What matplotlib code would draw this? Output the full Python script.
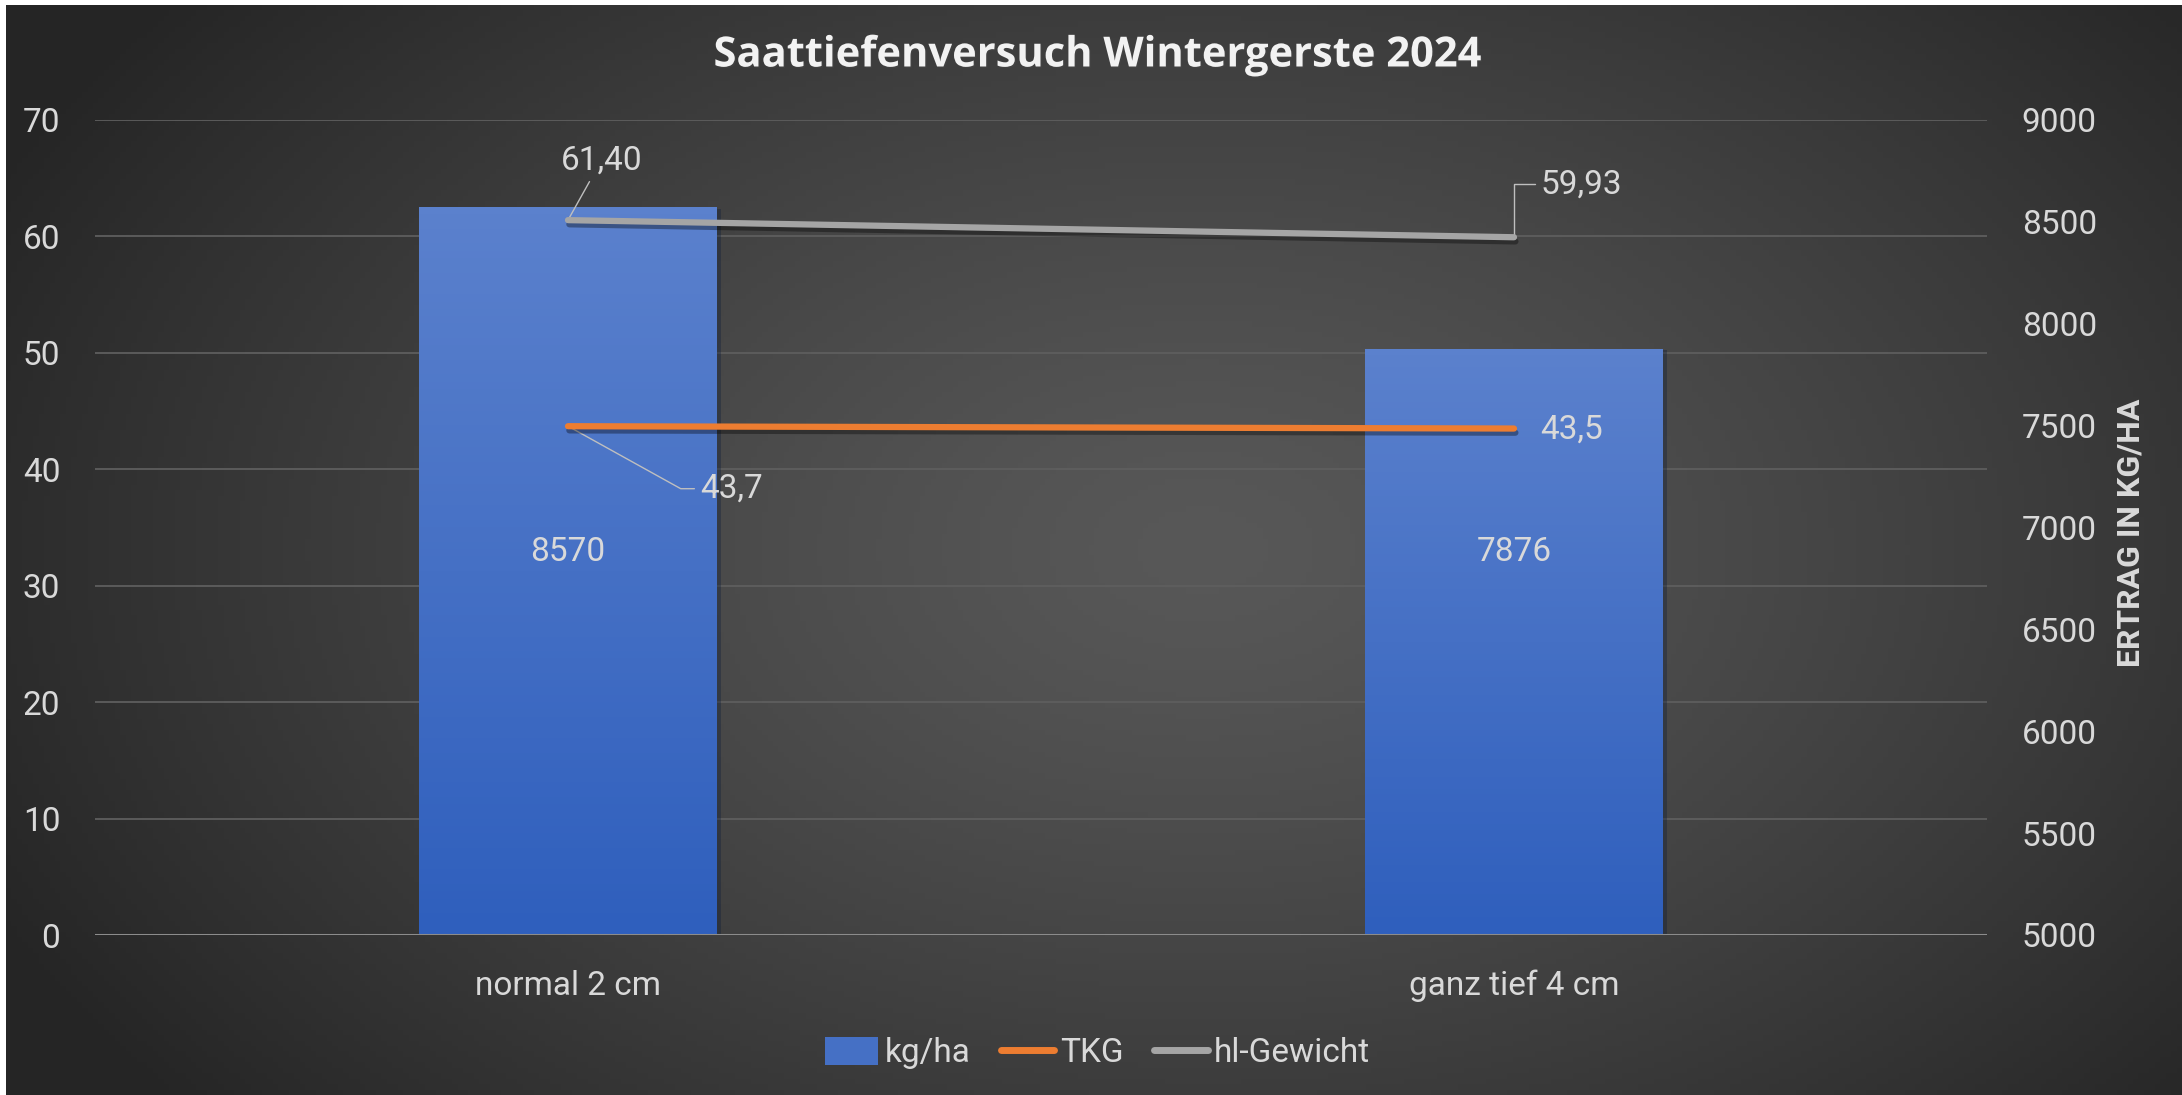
import numpy as np
import matplotlib
matplotlib.use("Agg")
import matplotlib.pyplot as plt
import matplotlib.transforms as mtransforms
import matplotlib.patheffects as pe
from matplotlib.patches import Patch
from matplotlib.lines import Line2D

plt.rcParams['font.family'] = ['Roboto', 'DejaVu Sans']

# Daten
kategorien = ["normal 2 cm", "ganz tief 4 cm"]
ertrag = [8570, 7876]          # kg/ha, rechte Achse
tkg = [43.7, 43.5]             # linke Achse
hl_gewicht = [61.40, 59.93]    # linke Achse
tkg_labels = ["43,7", "43,5"]
hl_labels = ["61,40", "59,93"]
links_ticks = [0, 10, 20, 30, 40, 50, 60, 70]
rechts_ticks = [5000, 5500, 6000, 6500, 7000, 7500, 8000, 8500, 9000]

TXT = "#D9D9D9"
FS = 24
BLAU_OBEN = np.array([0x5B, 0x81, 0xCD]) / 255
BLAU_UNTEN = np.array([0x2F, 0x5F, 0xBD]) / 255
ORANGE = "#ED7D31"
GRAU = "#A5A5A5"

W, H = 2182, 1095
fig = plt.figure(figsize=(W / 100, H / 100), dpi=100, facecolor="white")

# Hintergrund mit radialem Verlauf
bg = fig.add_axes([6 / W, 0, 1 - 6 / W, 1 - 5 / H])
bg.set_axis_off()
gx, gy = np.meshgrid(np.linspace(0, 1, 400), np.linspace(0, 1, 200))
r = np.sqrt(((gx - 0.55) / 0.62) ** 2 + ((gy - 0.5) / 0.8) ** 2)
r = np.clip(r, 0, 1) ** 1.3
c_in = np.array([0x58, 0x58, 0x58]) / 255
c_out = np.array([0x25, 0x25, 0x25]) / 255
img = c_in[None, None, :] * (1 - r[..., None]) + c_out[None, None, :] * r[..., None]
bg.imshow(img, aspect="auto", extent=[0, 1, 0, 1], origin="lower")
bg.set_xlim(0, 1)
bg.set_ylim(0, 1)

# Balken-Achse (rechts), Linien-Achse (links)
pos = [95 / W, 1 - 935 / H, (1987 - 95) / W, (935 - 120) / H]
ax = fig.add_axes(pos)
ax.patch.set_visible(False)
ax2 = ax.twinx()
ax2.patch.set_visible(False)

x = np.arange(len(kategorien))
ax.set_xlim(-0.5, len(kategorien) - 0.5)
ax.set_ylim(5000, 9000)
ax2.set_ylim(0, 70)

# Gitterlinien der linken Achse hinter den Balken
trans = mtransforms.blended_transform_factory(ax.transAxes, ax2.transData)
for t in links_ticks[1:]:
    ax.plot([0, 1], [t, t], transform=trans, color="#5E5E5E", lw=1.3, zorder=0)

bars = ax.bar(x, ertrag, width=0.315, bottom=0, color=BLAU_UNTEN, zorder=1,
              path_effects=[pe.SimplePatchShadow(offset=(3, -1), alpha=0.35), pe.Normal()])
grad = np.linspace(0, 1, 100)[:, None, None]
bar_img = BLAU_UNTEN * (1 - grad) + BLAU_OBEN * grad
for b in bars:
    ax.imshow(bar_img, aspect="auto", origin="lower", zorder=2,
              extent=[b.get_x(), b.get_x() + b.get_width(), 5000, b.get_height()])
ax.set_xlim(-0.5, len(kategorien) - 0.5)
ax.set_ylim(5000, 9000)

for xi, v in zip(x, ertrag):
    ax.text(xi, 0.47, str(v), transform=mtransforms.blended_transform_factory(ax.transData, ax.transAxes),
            ha="center", va="center", color=TXT, fontsize=FS, zorder=3)

# Linien
shadow = [pe.SimpleLineShadow(offset=(1, -3), alpha=0.35, shadow_color="black"), pe.Normal()]
ax2.plot(x, tkg, color=ORANGE, lw=4.5, solid_capstyle="round", path_effects=shadow, zorder=4)
ax2.plot(x, hl_gewicht, color=GRAU, lw=4.5, solid_capstyle="round", path_effects=shadow, zorder=4)
ax2.axhline(0, color="#8C8C8C", lw=2.2, zorder=5)

lead = dict(arrowstyle="-", color="#BFBFBF", lw=1.0, shrinkA=2, shrinkB=0)
ax2.annotate(hl_labels[0], xy=(x[0], hl_gewicht[0]), xytext=(24, 43), textcoords="offset points",
             ha="center", va="center", color=TXT, fontsize=FS, arrowprops=lead)
ax2.annotate(hl_labels[1], xy=(x[1], hl_gewicht[1]), xytext=(19, 38), textcoords="offset points",
             ha="left", va="center", color=TXT, fontsize=FS,
             arrowprops=dict(lead, connectionstyle="angle,angleA=0,angleB=90,rad=0"))
ax2.annotate(tkg_labels[0], xy=(x[0], tkg[0]), xytext=(95, -45), textcoords="offset points",
             ha="left", va="center", color=TXT, fontsize=FS,
             arrowprops=dict(lead, connectionstyle="angle,angleA=0,angleB=-29,rad=0"))
ax2.annotate(tkg_labels[1], xy=(x[1], tkg[1]), xytext=(19, -1), textcoords="offset points",
             ha="left", va="center", color=TXT, fontsize=FS)

# Achsen
for a in (ax, ax2):
    for s in a.spines.values():
        s.set_visible(False)
    a.tick_params(length=0, colors=TXT, labelsize=FS)
ax.yaxis.tick_right()
ax.set_yticks(rechts_ticks)
ax.tick_params(axis="y", pad=25)
ax2.yaxis.tick_left()
ax2.set_yticks(links_ticks)
ax2.tick_params(axis="y", pad=25)
ax.set_xticks(x)
ax.set_xticklabels(kategorien)
ax.tick_params(axis="x", pad=25)

fig.text(2130 / W, 1 - 533 / H, "ERTRAG IN KG/HA", rotation=90, ha="center", va="center",
         color=TXT, fontsize=23, fontweight="bold")

fig.text(0.5 + 0.003, 1 - 56 / H, "Saattiefenversuch Wintergerste 2024", ha="center", va="center",
         color="#F2F2F2", fontsize=30, fontweight="bold", family=["Open Sans", "DejaVu Sans"],
         path_effects=[pe.withSimplePatchShadow(offset=(1, -1), alpha=0.4)])

handles = [Patch(facecolor=BLAU_OBEN * 0.5 + BLAU_UNTEN * 0.5, edgecolor="none"),
           Line2D([], [], color=ORANGE, lw=5, solid_capstyle="round"),
           Line2D([], [], color=GRAU, lw=5, solid_capstyle="round")]
fig.legend(handles, ["kg/ha", "TKG", "hl-Gewicht"], loc="center", bbox_to_anchor=(0.503, 1 - 1053 / H),
           ncol=3, frameon=False, fontsize=FS, labelcolor=TXT, handlelength=1.6, handleheight=0.95,
           handletextpad=0.2, columnspacing=0.9)

fig.savefig("out.png", dpi=100, facecolor="white")
